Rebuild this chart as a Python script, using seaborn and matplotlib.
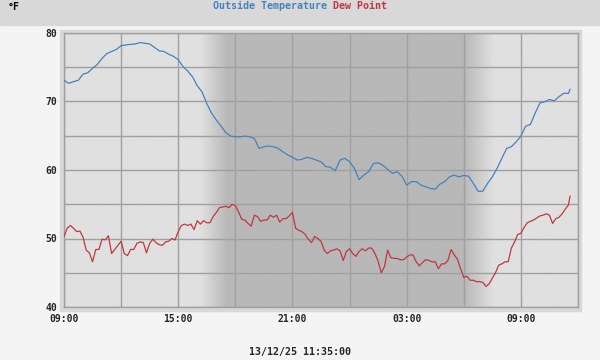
import numpy as np
import pandas as pd
import seaborn as sns
import matplotlib
matplotlib.use("Agg")
import matplotlib.pyplot as plt
import matplotlib.dates as mdates
from matplotlib.ticker import MultipleLocator
from matplotlib.patches import Rectangle

sns.set_style("white")
plt.rcParams["font.family"] = ["DejaVu Sans Mono", "DejaVu Sans"]
plt.rcParams["font.weight"] = "bold"

# time span of the chart
start = pd.Timestamp("2025-12-12 09:00")
end = pd.Timestamp("2025-12-13 12:00")
last = pd.Timestamp("2025-12-13 11:35")

# outside temperature (°F), every 15 min from 09:00, last reading 11:35
temp_f = [
    73.1, 72.65, 72.9, 73.1, 74.0, 74.2, 74.85, 75.4,
    76.3, 77.0, 77.3, 77.6, 78.15, 78.25, 78.35, 78.4,
    78.6, 78.5, 78.4, 77.9, 77.4, 77.3, 76.9, 76.6,
    76.1, 75.1, 74.45, 73.6, 72.3, 71.4, 69.7, 68.3,
    67.3, 66.4, 65.45, 64.95, 64.85, 64.85, 64.95, 64.85,
    64.6, 63.15, 63.4, 63.5, 63.4, 63.15, 62.65, 62.2,
    61.85, 61.45, 61.55, 61.85, 61.7, 61.45, 61.2, 60.5,
    60.4, 59.9, 61.45, 61.7, 61.2, 60.25, 58.6, 59.25,
    59.75, 60.95, 61.05, 60.7, 60.1, 59.5, 59.75, 59.1,
    57.8, 58.3, 58.3, 57.8, 57.55, 57.3, 57.2, 57.95,
    58.3, 59.0, 59.25, 59.0, 59.2, 59.1, 58.05, 56.9,
    56.9, 58.05, 59.0, 60.25, 61.7, 63.15, 63.4, 64.1,
    64.95, 66.4, 66.65, 68.3, 69.8, 69.95, 70.3, 70.1,
    70.7, 71.2, 71.2, 71.8,
]

# dew point (°F), every 10 min from 09:00, last reading 11:35
dew_f = [
    50.3, 51.5, 51.9, 51.5, 51.0, 51.1, 50.2, 48.3, 47.9, 46.6, 48.4, 48.4,
    49.9, 49.8, 50.4, 47.8, 48.4, 49.0, 49.6, 47.8, 47.5, 48.4, 48.4, 49.3,
    49.5, 49.4, 47.9, 49.3, 49.9, 49.4, 49.1, 49.0, 49.5, 49.6, 50.0, 49.8,
    51.0, 51.9, 52.1, 51.9, 52.1, 51.3, 52.6, 52.1, 52.6, 52.3, 52.3, 53.2,
    53.8, 54.5, 54.6, 54.7, 54.5, 55.0, 54.8, 53.9, 52.8, 52.7, 52.2, 51.8,
    53.4, 53.2, 52.5, 52.7, 52.7, 53.4, 53.1, 53.4, 52.4, 52.9, 52.9, 53.3,
    53.8, 51.5, 51.2, 51.0, 50.6, 49.9, 49.4, 50.3, 50.0, 49.6, 48.3, 47.8,
    48.2, 48.3, 48.5, 48.2, 46.8, 48.1, 48.5, 47.8, 47.4, 48.1, 48.5, 48.2,
    48.6, 48.6, 47.8, 46.7, 45.0, 45.9, 48.3, 47.2, 47.1, 47.1, 46.9, 46.9,
    47.3, 47.6, 47.6, 46.6, 46.0, 46.5, 46.9, 46.8, 46.6, 46.6, 45.6, 46.3,
    46.3, 46.8, 48.4, 47.6, 47.0, 45.6, 44.3, 44.5, 43.9, 43.9, 43.7, 43.7,
    43.6, 43.0, 43.4, 44.2, 45.0, 46.1, 46.3, 46.6, 46.6, 48.6, 49.5, 50.6,
    50.75, 51.6, 52.3, 52.5, 52.7, 53.0, 53.3, 53.4, 53.6, 53.4, 52.2, 52.9,
    53.1, 53.6, 54.3, 54.9, 56.2,
]

temp_times = list(pd.date_range(start, "2025-12-13 11:30", freq="15min")) + [last]
dew_times = list(pd.date_range(start, "2025-12-13 11:30", freq="10min")) + [last]

BLUE = "#4682c0"
RED = "#c0383f"
GRID = "#a0a0a0"

fig = plt.figure(figsize=(6, 3.6), dpi=100, facecolor="#f4f4f4")
fig.patches.append(Rectangle((0, 1 - 25 / 360), 1, 25 / 360, transform=fig.transFigure,
                             color="#d8d8d8", zorder=-1))
fig.patches.append(Rectangle((60 / 600, 49 / 360), 521 / 600, 281 / 360, transform=fig.transFigure,
                             color="#d8d8d8", zorder=-1))
ax = fig.add_axes([64 / 600, 53 / 360, 514 / 600, 274 / 360])
ax.set_zorder(1)

# day / night shading (hours after 09:00)
day, night = 0xE0 / 255, 0xB8 / 255
hrs = np.linspace(0, 27, 1500)
shade = np.interp(hrs, [0, 7.17, 8.58, 21.0, 22.6, 27], [day, day, night, night, day, day])
ax.imshow(shade[np.newaxis, :], cmap="gray", vmin=0, vmax=1, aspect="auto",
          extent=[mdates.date2num(start), mdates.date2num(end), 40, 80],
          zorder=0, interpolation="bilinear")

sns.lineplot(x=temp_times, y=temp_f, color=BLUE, linewidth=0.9, ax=ax, zorder=3)
sns.lineplot(x=dew_times, y=dew_f, color=RED, linewidth=0.9, ax=ax, zorder=3)

ax.set_xlim(start, end)
ax.set_ylim(40, 80)
ax.xaxis.set_major_locator(mdates.HourLocator(byhour=[3, 9, 15, 21]))
ax.xaxis.set_minor_locator(mdates.HourLocator(byhour=[0, 6, 12, 18]))
ax.xaxis.set_major_formatter(mdates.DateFormatter("%H:%M"))
ax.yaxis.set_major_locator(MultipleLocator(10))
ax.yaxis.set_minor_locator(MultipleLocator(5))
ax.grid(which="both", color=GRID, linewidth=1.0)
ax.set_axisbelow(False)
for ln in ax.get_xgridlines() + ax.get_ygridlines():
    ln.set_zorder(1)
ax.tick_params(which="both", length=0, labelsize=7)
ax.tick_params(axis="x", pad=5)
ax.tick_params(axis="y", pad=5)
for s in ax.spines.values():
    s.set_color(GRID)
    s.set_linewidth(1.0)
ax.set_xlabel("")
ax.set_ylabel("")

fig.text(8 / 600, 1 - 7 / 360, "°F", ha="left", va="center", fontsize=7.2, color="black")
fig.text(327 / 600, 1 - 6 / 360, "Outside Temperature", ha="right", va="center",
         fontsize=7.2, color=BLUE)
fig.text(333 / 600, 1 - 6 / 360, "Dew Point", ha="left", va="center", fontsize=7.2, color=RED)
fig.text(0.5, 1 - 351.5 / 360, "13/12/25 11:35:00", ha="center", va="center", fontsize=7.2)

fig.savefig("out.png", dpi=100, facecolor=fig.get_facecolor())
